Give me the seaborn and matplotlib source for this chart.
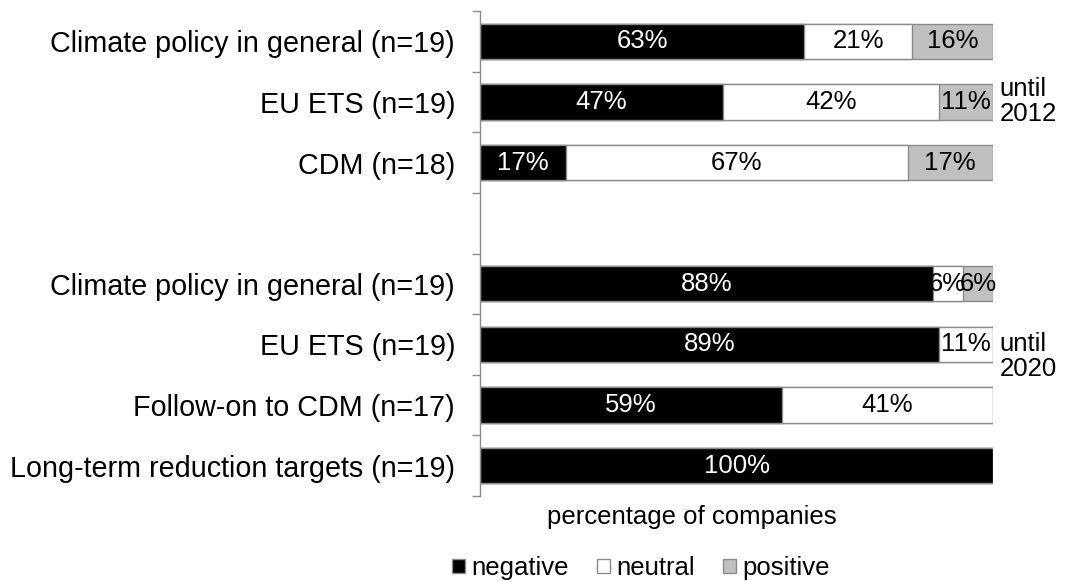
import pandas as pd
import numpy as np
import matplotlib.pyplot as plt
from matplotlib.patches import Patch
import seaborn as sns

# Survey answers, percentage of companies per item
keys = ['c12', 'e12', 'd12', 'gap', 'c20', 'e20', 'f20', 'l20']
labels = ['Climate policy in general (n=19)', 'EU ETS (n=19)', 'CDM (n=18)', '',
          'Climate policy in general (n=19)', 'EU ETS (n=19)',
          'Follow-on to CDM (n=17)', 'Long-term reduction targets (n=19)']
negative = [63.16, 47.37, 16.67, np.nan, 88.24, 89.47, 58.82, 100.0]
neutral = [21.05, 42.11, 66.67, np.nan, 5.88, 10.53, 41.18, 0.0]
positive = [15.79, 10.53, 16.67, np.nan, 5.88, 0.0, 0.0, 0.0]
series = ['negative', 'neutral', 'positive']
colors = {'negative': '#000000', 'neutral': '#ffffff', 'positive': '#c0c0c0'}

df = pd.DataFrame({'key': keys, 'negative': negative, 'neutral': neutral, 'positive': positive})
df['cum_neg'] = df['negative']
df['cum_neu'] = df['negative'] + df['neutral']
df['cum_pos'] = df['cum_neu'] + df['positive']
plot_df = df[df['key'] != 'gap']

sns.set_style('white')
plt.rcParams['font.family'] = ['Liberation Sans', 'DejaVu Sans']
plt.rcParams['text.color'] = 'black'
plt.rcParams['ytick.labelcolor'] = 'black'

fig = plt.figure(figsize=(10.69, 5.82), dpi=100)
ax = fig.add_axes([480 / 1069, 1 - 496 / 582, 513 / 1069, 485 / 582])

# value labels, centred in each segment
for i, k in enumerate(keys):
    if k == 'gap':
        continue
    row = df.iloc[i]
    start = 0
    for s in series:
        v = row[s]
        if v > 0:
            ax.text(start + v / 2, i, f'{v:.0f}%', ha='center', va='center', fontsize=18.5,
                    color='white' if s == 'negative' else 'black', zorder=3)
        start += v

# stacked bars drawn as overlapping cumulative totals
for col, s in [('cum_pos', 'positive'), ('cum_neu', 'neutral'), ('cum_neg', 'negative')]:
    sns.barplot(data=plot_df, x=col, y='key', order=keys, color=colors[s],
                width=0.58, edgecolor='#8c8c8c', linewidth=1, saturation=1, ax=ax)

ax.set_xlim(0, 100)
ax.set_ylim(7.5, -0.5)
ax.set_xticks([])
ax.set_yticks(range(len(keys)))
ax.set_yticklabels(labels, fontsize=20.7, color='black')
ax.set_yticks(np.arange(-0.5, 8, 1), minor=True)
ax.tick_params(axis='y', which='major', length=0, pad=18)
ax.tick_params(axis='y', which='minor', length=6, color='#8c8c8c', width=1, left=True)
ax.set_ylabel('')
ax.set_xlabel('')
for side in ['top', 'right', 'bottom']:
    ax.spines[side].set_visible(False)
ax.spines['left'].set_color('#8c8c8c')
ax.spines['left'].set_linewidth(1)

fig.text(692 / 1069, 1 - 517 / 582, 'percentage of companies', ha='center', va='center',
         fontsize=18.5)

ax.text(101.3, 1, 'until\n2012', ha='left', va='center', fontsize=18.5, linespacing=1.05)
ax.text(101.3, 5.2, 'until\n2020', ha='left', va='center', fontsize=18.5, linespacing=1.05)

handles = [Patch(facecolor=colors[s], edgecolor='#8c8c8c', label=s) for s in series]
fig.legend(handles=handles, loc='center', bbox_to_anchor=(641 / 1069, 1 - 568 / 582), ncol=3,
           frameon=False, fontsize=18.5, handlelength=0.5, handleheight=0.5,
           handletextpad=0.25, columnspacing=1.1, borderpad=0)

fig.savefig('out.png', dpi=100)
